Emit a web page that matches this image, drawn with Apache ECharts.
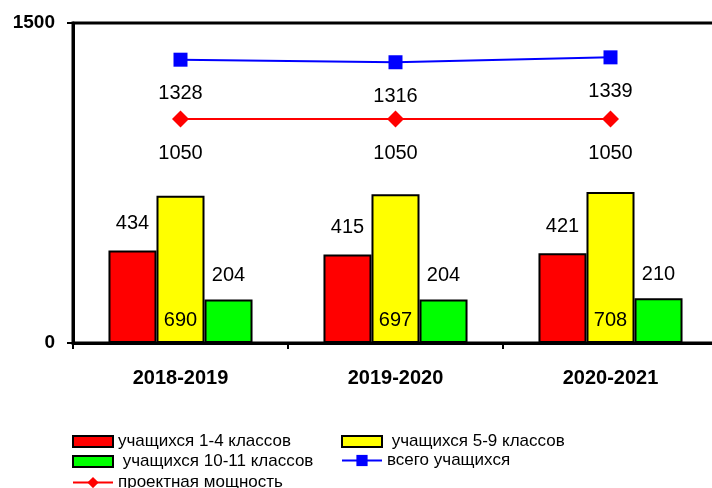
<!DOCTYPE html>
<html>
<head>
<meta charset="utf-8">
<script src="https://cdn.jsdelivr.net/npm/echarts@6.0.0/dist/echarts.min.js"></script>
<style>
  html, body { margin: 0; padding: 0; background: #fff; }
  #chart { width: 712px; height: 488px; }
</style>
</head>
<body>
<div id="chart"></div>
<script>
// данные диаграммы
const categories = ['2018-2019', '2019-2020', '2020-2021']
const grade1to4 = [434, 415, 421]
const grade5to9 = [690, 697, 708]
const grade10to11 = [204, 204, 210]
const totalStudents = [1328, 1316, 1339]
const designCapacity = [1050, 1050, 1050]
const yTicks = [0, 1500]

const font = '"Liberation Sans", Arial, sans-serif'

const names = {
  g1: 'учащихся 1-4 классов',
  g5: ' учащихся 5-9 классов',
  g10: ' учащихся 10-11 классов',
  total: 'всего учащихся',
  cap: 'проектная мощность'
}

const legendBase = {
  itemWidth: 40,
  itemHeight: 11,
  itemGap: 0,
  padding: 0,
  selectedMode: false,
  textStyle: { fontFamily: font, fontSize: 17, color: '#000', padding: [0, 0, 0, 0] }
}
const rectLegend = { ...legendBase, itemStyle: { borderWidth: 2, borderColor: '#000' } }
const lineLegend = { ...legendBase, itemHeight: 14 }

const chart = echarts.init(document.getElementById('chart'))

const barLabel = (position, distance) => ({
  show: true,
  position: position,
  distance: distance,
  color: '#000',
  fontFamily: font,
  fontSize: 20
})

const option = {
  animation: false,
  backgroundColor: '#fff',
  grid: {
    left: 73,
    top: 23,
    width: 645,
    bottom: 145,
    outerBoundsMode: 'none',
    containLabel: false,
    show: true,
    borderColor: '#000',
    borderWidth: 3,
    backgroundColor: 'transparent'
  },
  legend: [
    { ...rectLegend, left: 72, top: 433, data: [{ name: names.g1, icon: 'rect' }] },
    { ...rectLegend, left: 341, top: 433, data: [{ name: names.g5, icon: 'rect' }] },
    { ...rectLegend, left: 72, top: 453, data: [{ name: names.g10, icon: 'rect' }] },
    { ...lineLegend, left: 341, top: 452, data: [{ name: names.total }] },
    { ...lineLegend, left: 72, top: 474, data: [{ name: names.cap }] }
  ],
  xAxis: {
    type: 'category',
    data: categories,
    axisLine: { lineStyle: { color: '#000', width: 3 } },
    axisTick: { show: true, length: 6, lineStyle: { color: '#000', width: 2 } },
    axisLabel: {
      color: '#000',
      fontFamily: font,
      fontSize: 20,
      fontWeight: 'bold',
      margin: 25
    },
    splitLine: { show: false }
  },
  yAxis: {
    type: 'value',
    min: yTicks[0],
    max: yTicks[1],
    interval: yTicks[1] - yTicks[0],
    axisLine: { show: true, lineStyle: { color: '#000', width: 3 } },
    axisTick: { show: true, length: 6, lineStyle: { color: '#000', width: 2 } },
    axisLabel: {
      color: '#000',
      fontFamily: font,
      fontSize: 19,
      fontWeight: 'bold',
      margin: 18,
      formatter: v => String(v)
    },
    splitLine: { show: false }
  },
  series: [
    {
      name: names.g1,
      type: 'bar',
      data: grade1to4,
      barGap: '0%',
      barCategoryGap: '33%',
      itemStyle: { color: '#ff0000', borderColor: '#000', borderWidth: 2 },
      label: barLabel('top', 17)
    },
    {
      name: names.g5,
      type: 'bar',
      data: grade5to9,
      itemStyle: { color: '#ffff00', borderColor: '#000', borderWidth: 2 },
      label: barLabel('insideBottom', 13)
    },
    {
      name: names.g10,
      type: 'bar',
      data: grade10to11,
      itemStyle: { color: '#00ff00', borderColor: '#000', borderWidth: 2 },
      label: barLabel('top', 14)
    },
    {
      name: names.total,
      type: 'line',
      data: totalStudents,
      symbol: 'rect',
      symbolSize: 14,
      lineStyle: { color: '#0000ff', width: 2 },
      itemStyle: { color: '#0000ff' },
      label: barLabel('bottom', 17)
    },
    {
      name: names.cap,
      type: 'line',
      data: designCapacity,
      symbol: 'diamond',
      symbolSize: 17,
      lineStyle: { color: '#ff0000', width: 2 },
      itemStyle: { color: '#ff0000' },
      label: barLabel('bottom', 16)
    }
  ]
}

chart.setOption(option)
</script>
</body>
</html>
